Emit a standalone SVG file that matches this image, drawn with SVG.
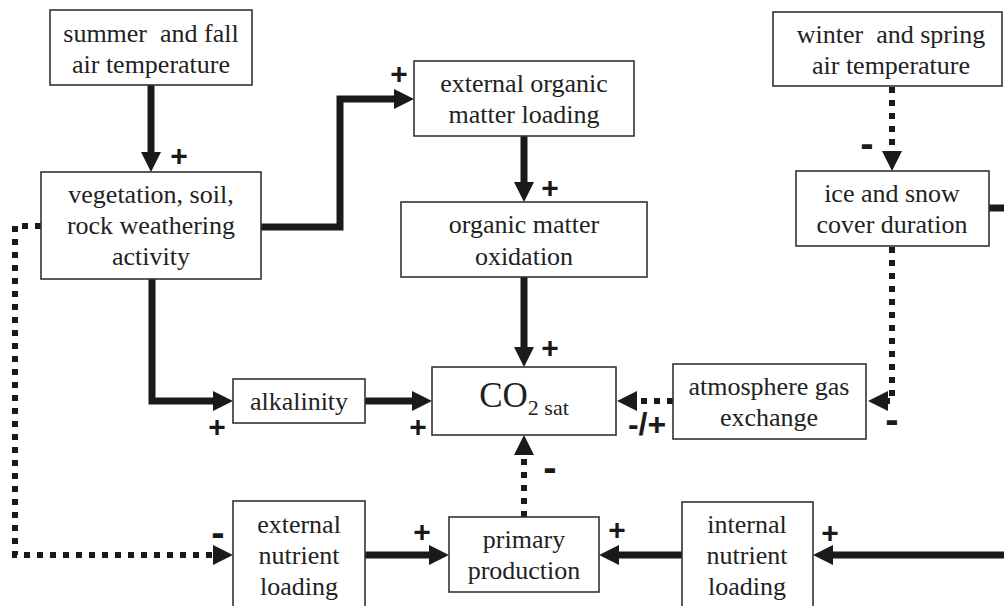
<svg xmlns="http://www.w3.org/2000/svg" width="1004" height="606" viewBox="0 0 1004 606">
<style>
.box{fill:#fff;stroke:#333;stroke-width:1.6}
.t{font-family:"Liberation Serif","Times New Roman",serif;font-size:26px;fill:#222;text-anchor:middle}
.s{font-family:"Liberation Sans",Arial,sans-serif;font-weight:bold;font-size:30px;fill:#1a1a1a;text-anchor:middle}
.m{font-family:"Liberation Sans",Arial,sans-serif;font-weight:bold;font-size:40px;fill:#1a1a1a;text-anchor:middle}
.solid{fill:none;stroke:#1a1a1a;stroke-width:7;marker-end:url(#ah)}
.dot{fill:none;stroke:#1a1a1a;stroke-width:6;stroke-dasharray:6 7;marker-end:url(#ah)}
.plain{fill:none;stroke:#1a1a1a;stroke-width:7}
</style>
<defs>
<marker id="ah" markerUnits="userSpaceOnUse" markerWidth="21" markerHeight="20" refX="1" refY="10" orient="auto" viewBox="0 0 21 20">
<path d="M0,0 L20,10 L0,20 z" fill="#1a1a1a"/>
</marker>
</defs>
<g id="connectors">
<path class="solid" d="M151,85 V153"/>
<path class="solid" d="M261,227 H340 V99 H395"/>
<path class="solid" d="M524,136 V183"/>
<path class="solid" d="M524,277 V348"/>
<path class="solid" d="M152,279 V401 H214"/>
<path class="solid" d="M365,401 H413"/>
<path class="dot" d="M892,87 V152"/>
<path class="dot" d="M892,247 V401 H887"/>
<path class="dot" d="M673,401 H636"/>
<path class="dot" d="M524,517 V454"/>
<path class="dot" d="M41,226 H15 V555 H214"/>
<path class="solid" d="M365,555 H430"/>
<path class="solid" d="M682,555 H618"/>
<path class="solid" d="M1004,555 H832"/>
<path class="plain" d="M989,208 H1004"/>
</g>
<g id="labels">
<text class="s" x="179" y="166">+</text>
<text class="s" x="399" y="84">+</text>
<text class="s" x="550" y="198">+</text>
<text class="s" x="550" y="358">+</text>
<text class="s" x="217" y="437">+</text>
<text class="s" x="418" y="437">+</text>
<text class="m" x="867" y="157">-</text>
<text class="s" x="647" y="435" style="font-size:32px">-/+</text>
<text class="m" x="892" y="433">-</text>
<text class="m" x="550" y="481">-</text>
<text class="m" x="218" y="546">-</text>
<text class="s" x="422" y="542">+</text>
<text class="s" x="617" y="540">+</text>
<text class="s" x="830" y="543">+</text>
</g>
<g id="summer">
<rect class="box" x="50" y="10" width="202" height="75"/>
<text class="t" x="151" y="42" xml:space="preserve">summer  and fall</text>
<text class="t" x="151" y="73">air temperature</text>
</g>
<g id="vegetation">
<rect class="box" x="41" y="172" width="220" height="107"/>
<text class="t" x="151" y="203">vegetation, soil,</text>
<text class="t" x="151" y="234">rock weathering</text>
<text class="t" x="151" y="265">activity</text>
</g>
<g id="ext-organic">
<rect class="box" x="414" y="61" width="220" height="75"/>
<text class="t" x="524" y="92">external organic</text>
<text class="t" x="524" y="123">matter loading</text>
</g>
<g id="oxidation">
<rect class="box" x="401" y="202" width="246" height="75"/>
<text class="t" x="524" y="233">organic matter</text>
<text class="t" x="524" y="265">oxidation</text>
</g>
<g id="winter">
<rect class="box" x="773" y="12" width="229" height="74"/>
<text class="t" x="891" y="43" xml:space="preserve">winter  and spring</text>
<text class="t" x="891" y="74">air temperature</text>
</g>
<g id="ice">
<rect class="box" x="796" y="171" width="193" height="75"/>
<text class="t" x="892" y="202">ice and snow</text>
<text class="t" x="892" y="233">cover duration</text>
</g>
<g id="alkalinity">
<rect class="box" x="233" y="379" width="132" height="44"/>
<text class="t" x="299" y="410">alkalinity</text>
</g>
<g id="co2">
<rect class="box" x="432" y="367" width="184" height="68"/>
<text class="t" x="524" y="407" style="font-size:35px">CO<tspan style="font-size:22px" dy="8">2 sat</tspan></text>
</g>
<g id="atmosphere">
<rect class="box" x="673" y="364" width="193" height="75"/>
<text class="t" x="769" y="395">atmosphere gas</text>
<text class="t" x="769" y="426">exchange</text>
</g>
<g id="ext-nutrient">
<rect class="box" x="233" y="501" width="132" height="120"/>
<text class="t" x="299" y="533">external</text>
<text class="t" x="299" y="564">nutrient</text>
<text class="t" x="299" y="595">loading</text>
</g>
<g id="primary">
<rect class="box" x="449" y="517" width="150" height="75"/>
<text class="t" x="524" y="548">primary</text>
<text class="t" x="524" y="579">production</text>
</g>
<g id="int-nutrient">
<rect class="box" x="682" y="502" width="131" height="120"/>
<text class="t" x="747" y="533">internal</text>
<text class="t" x="747" y="564">nutrient</text>
<text class="t" x="747" y="595">loading</text>
</g>
</svg>
